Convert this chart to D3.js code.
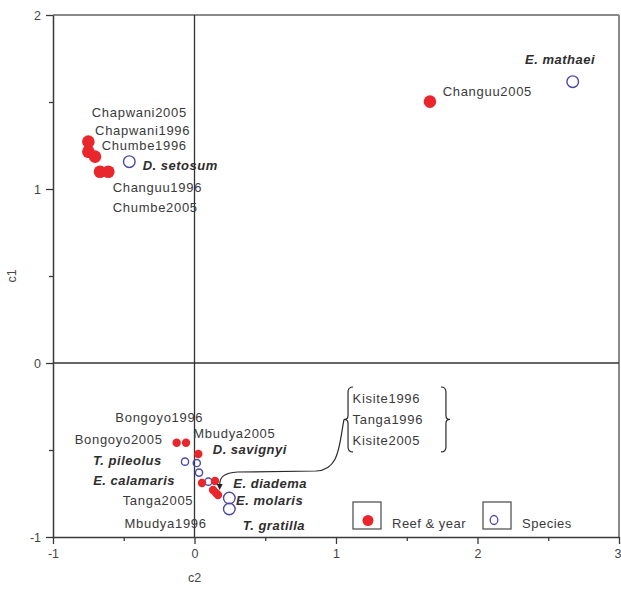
<!DOCTYPE html>
<html>
<head>
<meta charset="utf-8">
<script src="https://cdn.jsdelivr.net/npm/d3@7/dist/d3.min.js"></script>
<style>
  html, body { margin: 0; padding: 0; background: #fff; }
  svg { display: block; font-family: "Liberation Sans", Arial, sans-serif; }
</style>
</head>
<body>
<svg id="chart" width="621" height="590"></svg>
<script>
// ---- data: ordination scores (c2 = horizontal, c1 = vertical) ----
const reefNames = ["Chapwani2005", "Chapwani1996", "Chumbe1996", "Changuu1996", "Chumbe2005",
  "Changuu2005", "Bongoyo2005", "Bongoyo1996", "Mbudya2005", "Tanga2005", "Mbudya1996",
  "Kisite1996", "Tanga1996", "Kisite2005"];
const reefC2 = [-0.75, -0.75, -0.703, -0.668, -0.609, 1.664, -0.126, -0.060, 0.027, 0.053, 0.145, 0.131, 0.152, 0.166];
const reefC1 = [1.272, 1.214, 1.186, 1.099, 1.099, 1.502, -0.458, -0.458, -0.523, -0.690, -0.678, -0.730, -0.747, -0.759];

const speciesNames = ["D. setosum", "E. mathaei", "T. pileolus", "D. savignyi", "E. calamaris",
  "E. diadema", "E. molaris", "T. gratilla"];
const speciesC2 = [-0.461, 2.673, -0.067, 0.016, 0.032, 0.098, 0.246, 0.246];
const speciesC1 = [1.157, 1.617, -0.567, -0.575, -0.630, -0.682, -0.776, -0.839];

// reefs grouped under one bracket instead of individual labels
const bracketLabels = ["Kisite1996", "Tanga1996", "Kisite2005"];

const xTicks = [-1, 0, 1, 2, 3];
const yTicks = [-1, 0, 1, 2];
const xMinorTicks = [-0.5, 0.5, 1.5, 2.5];
const yMinorTicks = [-0.5, 0.5, 1.5];
const legendLabels = ["Reef & year", "Species"];
const xTitle = "c2", yTitle = "c1";

// ---- layout ----
const svg = d3.select("#chart");
const x = d3.scaleLinear().domain([-1, 3]).range([53, 619]);
const y = d3.scaleLinear().domain([-1, 2]).range([537, 15]);

const RED = "#e8262b", BLUE = "#4b48a8", TEXT = "#3a3a3a";

// marker radius and label placement (pixel offsets from the marker)
const bigMarkers = new Set(["Chapwani2005", "Chapwani1996", "Chumbe1996", "Changuu1996", "Chumbe2005",
  "Changuu2005", "D. setosum", "E. mathaei", "E. molaris", "T. gratilla"]);
const labelPlace = {
  "Chapwani2005": [3.4, -24.7, "start"],
  "Chapwani1996": [6.7, -16.5, "start"],
  "Chumbe1996": [6.7, -6.5, "start"],
  "Changuu1996": [12.7, 20, "start"],
  "Chumbe2005": [4.4, 40, "start"],
  "Changuu2005": [12.7, -5.7, "start"],
  "Bongoyo2005": [-14, 1.3, "end"],
  "Bongoyo1996": [17.3, -20.7, "end"],
  "Mbudya2005": [-5, -16, "start"],
  "Tanga2005": [-8.7, 22, "end"],
  "Mbudya1996": [-8.3, 47, "end"],
  "D. setosum": [13.4, 8.3, "start"],
  "E. mathaei": [22.3, -17.7, "end"],
  "T. pileolus": [-23.3, 3.3, "end"],
  "D. savignyi": [16, -9, "start"],
  "E. calamaris": [-24, 12.3, "end"],
  "E. diadema": [25, 6.3, "start"],
  "E. molaris": [6.7, 7, "start"],
  "T. gratilla": [13.4, 21.5, "start"]
};

// ---- frame ----
const frame = svg.append("g");
frame.append("line").attr("x1", x(-1)).attr("x2", x(3)).attr("y1", y(2)).attr("y2", y(2))
  .attr("stroke", "#8a8a8a").attr("stroke-width", 2);
frame.append("line").attr("x1", x(3)).attr("x2", x(3)).attr("y1", y(2)).attr("y2", y(-1))
  .attr("stroke", "#8a8a8a").attr("stroke-width", 2);

// zero lines
frame.append("line").attr("x1", x(0)).attr("x2", x(0)).attr("y1", y(2)).attr("y2", y(-1))
  .attr("stroke", "#333").attr("stroke-width", 1.3);
frame.append("line").attr("x1", x(-1)).attr("x2", x(3)).attr("y1", y(0)).attr("y2", y(0))
  .attr("stroke", "#333").attr("stroke-width", 1.3);

// ---- axes ----
const plainNum = d => String(d);
function styleAxis(g) {
  g.select(".domain").attr("stroke", "#3a3a3a").attr("stroke-width", 1.5);
  g.selectAll(".tick line").attr("stroke", "#3a3a3a").attr("stroke-width", 1.3);
  g.selectAll(".tick text").attr("fill", "#444").attr("font-size", 12.5)
    .attr("font-family", "'Liberation Sans', Arial, sans-serif");
}
svg.append("g").attr("transform", `translate(0,${y(-1)})`)
  .call(d3.axisBottom(x).tickValues(xTicks).tickFormat(plainNum).tickSize(7).tickPadding(5).tickSizeOuter(0))
  .call(styleAxis)
  .call(g => g.selectAll(".tick text").filter(d => d === 3).attr("text-anchor", "end").attr("dx", 2));
svg.append("g").attr("transform", `translate(0,${y(-1)})`)
  .call(d3.axisBottom(x).tickValues(xMinorTicks).tickFormat("").tickSize(4).tickSizeOuter(0))
  .call(g => g.select(".domain").remove())
  .call(g => g.selectAll(".tick line").attr("stroke", "#3a3a3a").attr("stroke-width", 1.3));

svg.append("g").attr("transform", `translate(${x(-1)},0)`)
  .call(d3.axisLeft(y).tickValues(yTicks).tickFormat(plainNum).tickSize(7).tickPadding(5).tickSizeOuter(0))
  .call(styleAxis);
svg.append("g").attr("transform", `translate(${x(-1)},0)`)
  .call(d3.axisLeft(y).tickValues(yMinorTicks).tickFormat("").tickSize(4).tickSizeOuter(0))
  .call(g => g.select(".domain").remove())
  .call(g => g.selectAll(".tick line").attr("stroke", "#3a3a3a").attr("stroke-width", 1.3));

svg.append("text").attr("x", x(0)).attr("y", 582).attr("text-anchor", "middle")
  .attr("font-size", 12.5).attr("fill", "#444").text(xTitle);
svg.append("text").attr("transform", `translate(16,${y(0.5)}) rotate(-90)`)
  .attr("text-anchor", "middle").attr("font-size", 12.5).attr("fill", "#444").text(yTitle);

// ---- points ----
const reef = reefNames.map((n, i) => ({ name: n, c2: reefC2[i], c1: reefC1[i] }));
const species = speciesNames.map((n, i) => ({ name: n, c2: speciesC2[i], c1: speciesC1[i] }));

svg.append("g").selectAll("circle").data(species).join("circle")
  .attr("cx", d => x(d.c2)).attr("cy", d => y(d.c1))
  .attr("r", d => bigMarkers.has(d.name) ? 5.8 : 3.6)
  .attr("fill", "none").attr("stroke", BLUE).attr("stroke-width", 1.4);

svg.append("g").selectAll("circle").data(reef).join("circle")
  .attr("cx", d => x(d.c2)).attr("cy", d => y(d.c1))
  .attr("r", d => bigMarkers.has(d.name) ? 6.3 : 4.2)
  .attr("fill", RED);

// ---- point labels ----
const labelled = reef.filter(d => labelPlace[d.name]).map(d => ({ ...d, kind: "reef" }))
  .concat(species.map(d => ({ ...d, kind: "species" })));
svg.append("g").selectAll("text").data(labelled).join("text")
  .attr("x", d => x(d.c2) + labelPlace[d.name][0])
  .attr("y", d => y(d.c1) + labelPlace[d.name][1])
  .attr("text-anchor", d => labelPlace[d.name][2])
  .attr("font-size", 13)
  .attr("letter-spacing", d => d.kind === "reef" ? 0.7 : 0.5)
  .attr("font-weight", d => d.kind === "species" ? "bold" : "normal")
  .attr("font-style", d => d.kind === "species" ? "italic" : "normal")
  .attr("fill", d => d.kind === "species" ? "#2e2e2e" : TEXT)
  .text(d => d.name);

// ---- bracket annotation for the overlapping reefs ----
const grouped = reef.filter(d => bracketLabels.includes(d.name));
const bx0 = x(1.085), bx1 = x(1.777);
const by0 = y(-0.138), by1 = y(-0.511), bym = (by0 + by1) / 2;
const w = 5;
const ann = svg.append("g").attr("fill", "none").attr("stroke", "#2a2a2a").attr("stroke-width", 1.2);
ann.append("path").attr("d",
  `M${bx0 + w},${by0} Q${bx0},${by0} ${bx0},${by0 + w} L${bx0},${bym - 4} Q${bx0},${bym} ${bx0 - 4},${bym}` +
  ` Q${bx0},${bym} ${bx0},${bym + 4} L${bx0},${by1 - w} Q${bx0},${by1} ${bx0 + w},${by1}`);
ann.append("path").attr("d",
  `M${bx1 - w},${by0} Q${bx1},${by0} ${bx1},${by0 + w} L${bx1},${bym - 4} Q${bx1},${bym} ${bx1 + 4},${bym}` +
  ` Q${bx1},${bym} ${bx1},${bym + 4} L${bx1},${by1 - w} Q${bx1},${by1} ${bx1 - w},${by1}`);

svg.append("g").selectAll("text").data(bracketLabels).join("text")
  .attr("x", bx0 + 4.5).attr("y", (d, i) => by0 + 16 + i * 21)
  .attr("font-size", 13).attr("letter-spacing", 0.7).attr("fill", TEXT).text(d => d);

// connector from the bracket down to the cluster
const tipX = d3.mean(grouped, d => x(d.c2)) + 4;
const tipY = d3.min(grouped, d => y(d.c1)) - 1;
const sx = bx0 - 4, sy = bym;
const runY = tipY - 18;
ann.append("path").attr("d",
  `M${sx},${sy} C${sx - 5},${sy + 25} ${sx - 4},${runY - 1} ${sx - 28},${runY} L${tipX + 18},${runY + 1}` +
  ` C${tipX + 4},${runY + 2} ${tipX},${runY + 6} ${tipX},${tipY - 4}`);
svg.append("path")
  .attr("d", `M${tipX - 3},${tipY - 5} L${tipX + 3},${tipY - 5} L${tipX},${tipY + 1} Z`)
  .attr("fill", "#222");

// ---- legend ----
const leg = svg.append("g");
const boxes = [{ x: 353, label: legendLabels[0], tx: 392 }, { x: 483, label: legendLabels[1], tx: 522 }];
leg.selectAll("rect").data(boxes).join("rect")
  .attr("x", d => d.x).attr("y", 502).attr("width", 28).attr("height", 27)
  .attr("fill", "#fff").attr("stroke", "#555").attr("stroke-width", 1.3);
leg.append("circle").attr("cx", 368).attr("cy", 520.5).attr("r", 5.5).attr("fill", RED);
leg.append("ellipse").attr("cx", 494).attr("cy", 520).attr("rx", 3.8).attr("ry", 4.5)
  .attr("fill", "none").attr("stroke", BLUE).attr("stroke-width", 1.3);
leg.selectAll("text").data(boxes).join("text")
  .attr("x", d => d.tx).attr("y", 528).attr("font-size", 13).attr("letter-spacing", 0.5)
  .attr("fill", TEXT).text(d => d.label);
</script>
</body>
</html>
